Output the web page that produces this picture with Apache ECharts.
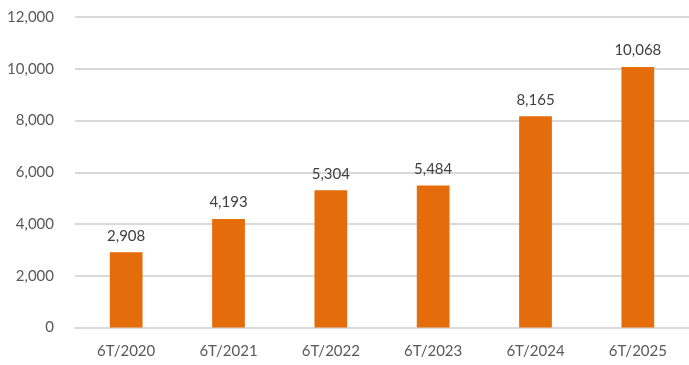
<!DOCTYPE html>
<html><head><meta charset="utf-8">
<script src="https://cdn.jsdelivr.net/npm/echarts@6/dist/echarts.min.js"></script>
<style>html,body{margin:0;padding:0;background:#fff}#c{width:689px;height:365px}</style>
</head><body><div id="c"></div>
<script>
const categories = ['6T/2020','6T/2021','6T/2022','6T/2023','6T/2024','6T/2025'];
const values = [2908, 4193, 5304, 5484, 8165, 10068];
const chart = echarts.init(document.getElementById('c'), null, {renderer:'canvas'});
const fmt = v => v.toLocaleString('en-US');
chart.setOption({
  animation:false,
  textStyle:{fontFamily:'Lato, sans-serif'},
  grid:{left:75, right:0, top:17, bottom:37.5, containLabel:false},
  xAxis:{type:'category', data:categories,
    axisLine:{lineStyle:{color:'#d9d9d9', width:2}}, axisTick:{show:false},
    axisLabel:{color:'#595959', fontSize:15, margin:16, fontFamily:'Lato, sans-serif'}},
  yAxis:{type:'value', min:0, max:12000, interval:2000,
    axisLine:{show:false}, axisTick:{show:false},
    splitLine:{lineStyle:{color:'#d9d9d9', width:2}},
    axisLabel:{color:'#595959', fontSize:15, margin:21, formatter:fmt, fontFamily:'Lato, sans-serif'}},
  series:[{type:'bar', data:values, barWidth:'32%',
    itemStyle:{color:'#E46C0A'},
    label:{show:true, position:'top', distance:9, color:'#404040', fontSize:15, formatter:p=>fmt(p.value), fontFamily:'Lato, sans-serif'}}]
});
</script></body></html>
